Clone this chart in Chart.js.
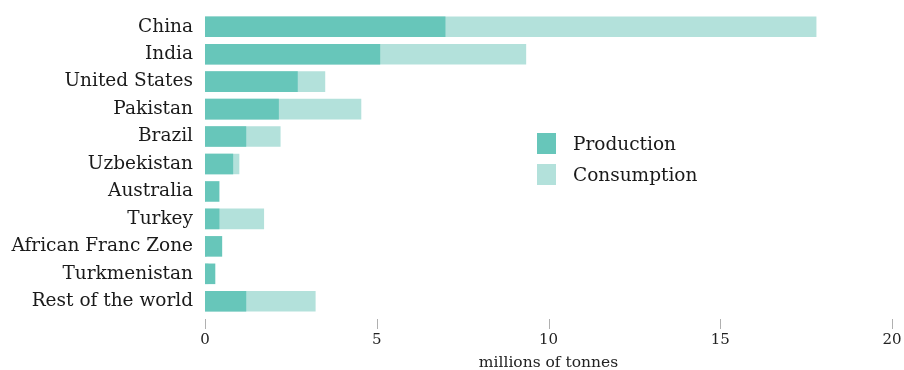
<!DOCTYPE html>
<html>
<head>
<meta charset="utf-8">
<script src="https://cdn.jsdelivr.net/npm/chart.js@4.4.1/dist/chart.umd.min.js"></script>
<style>
  html, body { margin: 0; padding: 0; background: #fff; }
  #wrap { position: relative; width: 904px; height: 370px; }
  #legend { position: absolute; left: 537px; top: 128px; font-family: "DejaVu Serif", serif; font-size: 18.5px; color: #1a1a1a; }
  #legend div { display: flex; align-items: center; height: 31px; }
  #legend span.sw { display: inline-block; width: 19px; height: 21px; margin-right: 17px; }
</style>
</head>
<body>
<div id="wrap">
  <canvas id="cottonChart" width="904" height="370"></canvas>
  <div id="legend"></div>
</div>
<script>
// Cotton production vs consumption by country
const countries = ['China', 'India', 'United States', 'Pakistan', 'Brazil', 'Uzbekistan',
  'Australia', 'Turkey', 'African Franc Zone', 'Turkmenistan', 'Rest of the world'];
const production = [7.0, 5.1, 2.7, 2.15, 1.2, 0.82, 0.42, 0.42, 0.5, 0.3, 1.2];
const consumption = [17.8, 9.35, 3.5, 4.55, 2.2, 1.0, 0.02, 1.72, 0.05, 0.1, 3.22];
const xTicks = [0, 5, 10, 15, 20];

const prodColor = '#67c6ba';
const consColor = '#b3e1db';
const font = '"DejaVu Serif", serif';

// short tick marks under the bars, a little below the plot area
const tickMarks = {
  id: 'tickMarks',
  afterDraw(chart) {
    const ctx = chart.ctx;
    const x = chart.scales.x;
    const y0 = chart.chartArea.bottom + 4;
    ctx.save();
    ctx.strokeStyle = '#b0b0b0';
    ctx.lineWidth = 1;
    xTicks.forEach(v => {
      const px = Math.round(x.getPixelForValue(v)) + 0.5;
      ctx.beginPath();
      ctx.moveTo(px, y0);
      ctx.lineTo(px, y0 + 10);
      ctx.stroke();
    });
    ctx.restore();
  }
};

new Chart(document.getElementById('cottonChart').getContext('2d'), {
  type: 'bar',
  data: {
    labels: countries,
    datasets: [
      { label: 'Production', data: production, backgroundColor: prodColor, grouped: false },
      { label: 'Consumption', data: consumption, backgroundColor: consColor, grouped: false }
    ]
  },
  options: {
    indexAxis: 'y',
    responsive: false,
    animation: false,
    layout: { padding: { top: 13, right: 12, left: 0, bottom: 0 } },
    datasets: { bar: { categoryPercentage: 0.75, barPercentage: 1 } },
    plugins: { legend: { display: false }, tooltip: { enabled: false } },
    scales: {
      x: {
        min: 0, max: 20,
        afterBuildTicks(scale) { scale.ticks = xTicks.map(v => ({ value: v })); },
        afterFit(scale) { scale.height = 55; scale.paddingLeft = 0; scale.paddingRight = 0; },
        grid: { display: false, drawTicks: false },
        border: { display: false },
        ticks: { padding: 16, color: '#222', font: { family: font, size: 15 } },
        title: { display: true, text: 'millions of tonnes', color: '#222',
          font: { family: font, size: 15.5 }, padding: { top: 2, bottom: -2 } }
      },
      y: {
        afterFit(scale) { scale.width = 205; scale.paddingTop = 0; scale.paddingBottom = 0; },
        grid: { display: false, drawTicks: false },
        border: { display: false },
        ticks: { padding: 12, color: '#1a1a1a', font: { family: font, size: 18.5 } }
      }
    }
  },
  plugins: [tickMarks]
});

// legend placed inside the empty area of the plot
const legendEl = document.getElementById('legend');
[['Production', prodColor], ['Consumption', consColor]].forEach(([name, col]) => {
  const row = document.createElement('div');
  row.innerHTML = '<span class="sw" style="background:' + col + '"></span>' + name;
  legendEl.appendChild(row);
});
</script>
</body>
</html>
